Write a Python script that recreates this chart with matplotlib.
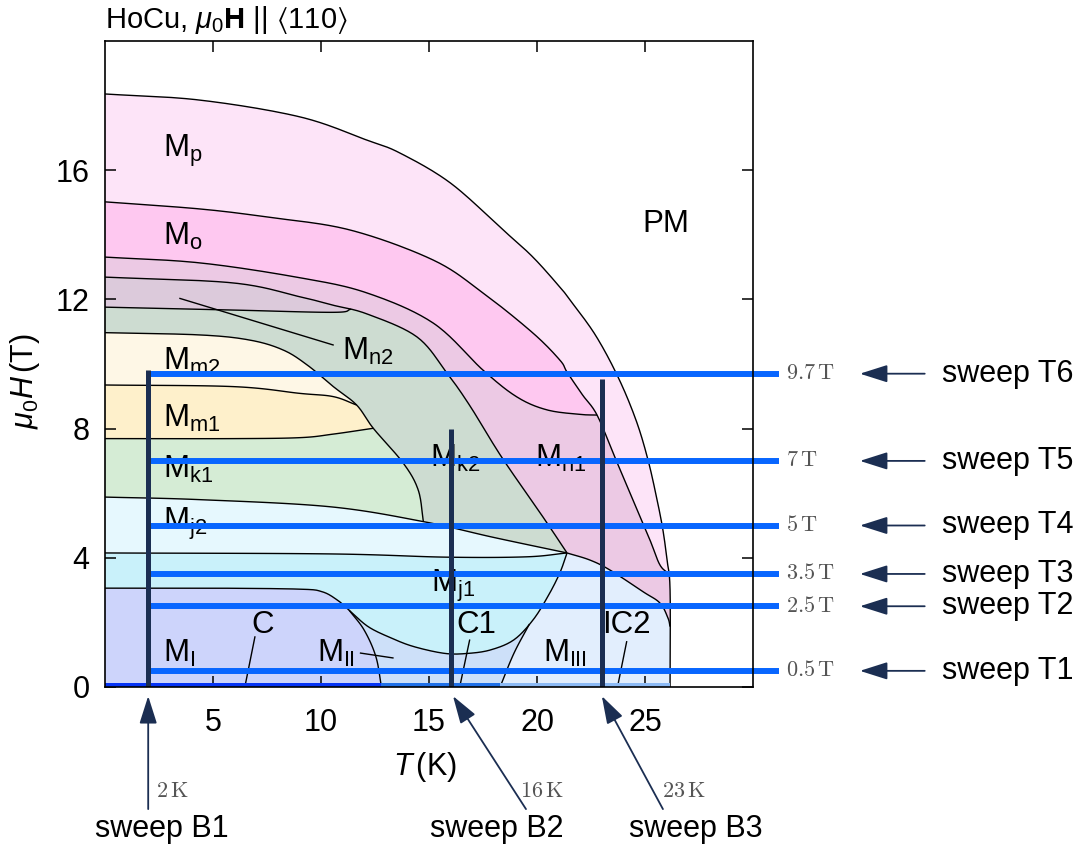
import numpy as np
import matplotlib
matplotlib.use("Agg")
import matplotlib.pyplot as plt

plt.rcParams['font.family'] = ['Liberation Sans', 'DejaVu Sans']
plt.rcParams['mathtext.fontset'] = 'custom'
plt.rcParams['mathtext.rm'] = 'Liberation Sans'
plt.rcParams['mathtext.it'] = 'Liberation Sans:italic'
plt.rcParams['mathtext.bf'] = 'Liberation Sans:bold'
plt.rcParams['mathtext.sf'] = 'Liberation Sans'
plt.rcParams['mathtext.fallback'] = 'stixsans'

# ---------------- phase boundaries (T in K, mu0H in T) ----------------
out_T = [0, 4.4, 9.03, 12.13, 13.66, 16.0, 18.43, 19.81, 21.06, 21.53, 22.7, 23.75, 24.58, 25.14, 25.56, 25.83, 26.02, 26.16, 26.16]
out_H = [18.36, 18.17, 17.65, 16.93, 16.53, 15.6, 14.15, 13.31, 12.38, 11.98, 10.9, 9.6, 8.27, 7.03, 5.79, 4.86, 3.93, 3.0, 0.0]

po_T = [0, 4.4, 7.5, 11.34, 15.19, 17.5, 19.81, 21.06, 21.39, 22.1, 22.78, 23.6, 24.44, 25.23, 25.69, 26.12]
po_H = [15.02, 14.8, 14.55, 14.15, 13.22, 12.2, 10.96, 10.12, 9.75, 9.05, 8.42, 7.12, 5.79, 4.55, 3.78, 3.5]

ol_T = [0, 4.4, 9.03, 12.13, 15.19, 17.5, 19.07, 20.46, 22.0, 22.78]
ol_H = [13.31, 13.13, 12.67, 12.2, 11.27, 9.81, 8.98, 8.58, 8.44, 8.42]

n1l_T = [0, 5.93, 9.03, 10.56, 12.13, 14.44, 15.83, 16.9, 18.36, 20.28, 21.39]
n1l_H = [12.69, 12.51, 12.08, 11.82, 11.55, 10.84, 9.72, 8.7, 7.12, 5.26, 4.15]

n2l_T = [0, 5.93, 10.56]
n2l_H = [11.76, 11.67, 11.6]
n2_tip_T = 11.4

k2b_T = [0, 4.4, 6.71, 8.26, 9.4, 10.57, 11.65, 12.42, 13.81, 14.5, 14.74]
k2b_H = [10.97, 10.9, 10.74, 10.43, 9.95, 9.3, 8.73, 8.01, 6.93, 6.1, 5.12]

m1t_T = [0, 5.94, 9.03, 10.57, 11.65]
m1t_H = [9.35, 9.3, 9.09, 8.99, 8.73]

m1l_T = [0, 5.94, 9.03, 10.57, 12.42]
m1l_H = [7.69, 7.69, 7.72, 7.83, 8.01]

j2t_T = [0, 4.4, 10.42, 14.74, 18.0, 21.39]
j2t_H = [5.88, 5.8, 5.58, 5.12, 4.63, 4.15]

j2l_T = [0, 10.42, 15.8, 19.5, 21.39]
j2l_H = [4.15, 4.12, 4.02, 4.03, 4.15]

j1l_T = [0, 5.0, 8.99, 10.05, 10.76, 11.3, 12.18, 13.24, 14.3, 15.73, 16.8, 17.86, 18.93, 19.81, 20.5, 21.05, 21.39]
j1l_H = [3.06, 3.06, 3.03, 2.95, 2.69, 2.38, 1.87, 1.52, 1.25, 1.04, 1.04, 1.15, 1.46, 2.07, 2.8, 3.52, 4.15]

m12_T = [11.3, 12.0, 12.54, 12.8]
m12_H = [2.38, 1.76, 0.94, 0.0]

m23_T = [18.29, 18.93, 19.65]
m23_H = [0.0, 1.04, 1.95]

m3t_T = [21.39, 22.45, 23.38, 24.91, 25.69, 26.06, 26.16]
m3t_H = [4.15, 3.93, 3.62, 2.95, 2.6, 2.14, 1.87]

# ground-state strip segments (C, C1, IC2)
strip_edges = [0, 12.8, 18.29, 26.16]
strip_colors = ['#0533f5', '#1f70e8', '#8cbaf5']

# sweeps
sweepT_fields = [0.5, 2.5, 3.5, 5, 7, 9.7]
sweepT_values = [r'$0.5\,\mathrm{T}$', r'$2.5\,\mathrm{T}$', r'$3.5\,\mathrm{T}$',
                 r'$5\,\mathrm{T}$', r'$7\,\mathrm{T}$', r'$9.7\,\mathrm{T}$']
sweepT_names = ['sweep T1', 'sweep T2', 'sweep T3', 'sweep T4', 'sweep T5', 'sweep T6']
sweepB_temps = [2, 16, 23]
sweepB_tops = [9.8, 8.0, 9.55]
sweepB_values = [r'$2\,\mathrm{K}$', r'$16\,\mathrm{K}$', r'$23\,\mathrm{K}$']
sweepB_names = ['sweep B1', 'sweep B2', 'sweep B3']

# phase labels: (text, T, H) left/baseline
phase_labels = [
    (r'M$_\mathrm{p}$', 2.69, 16.41), (r'M$_\mathrm{o}$', 2.69, 13.68),
    (r'M$_\mathrm{m2}$', 2.69, 9.81), (r'M$_\mathrm{m1}$', 2.69, 8.05),
    (r'M$_\mathrm{k1}$', 2.69, 6.47), (r'M$_\mathrm{j2}$', 2.69, 4.86),
    (r'M$_\mathrm{n2}$', 10.97, 10.12), (r'M$_\mathrm{k2}$', 15.05, 6.81),
    (r'M$_\mathrm{n1}$', 19.9, 6.81), (r'M$_\mathrm{j1}$', 15.1, 2.94),
    (r'M$_\mathrm{I}$', 2.69, 0.77), (r'M$_\mathrm{II}$', 9.8, 0.77),
    (r'M$_\mathrm{III}$', 20.3, 0.77), ('C', 6.77, 1.67), ('C1', 16.25, 1.67),
    ('IC2', 23.0, 1.67), ('PM', 24.9, 14.09),
]
pointer_T0 = [3.47, 11.83, 6.94, 16.88, 24.15]
pointer_H0 = [12.03, 1.05, 1.55, 1.45, 1.40]
pointer_T1 = [10.56, 13.33, 6.51, 16.44, 23.76]
pointer_H1 = [10.59, 0.90, 0.12, 0.06, 0.11]

colors = dict(p='#fde4f8', o='#fec8f0', n1='#ecc9e4', n2='#dccadb', k2='#cddcd1',
              m2='#fef7e6', m1='#fef0cb', k1='#d5ecd5', j2='#e6f8fe', j1='#c9f1fa',
              I='#cdd4fb', II='#cde0f9', III='#e2eefd')
blue = '#0866ff'
navy = '#1b2e52'


def smooth(T, H, n=20):
    P = np.column_stack([T, H]).astype(float)
    if len(P) < 3:
        return P[:, 0], P[:, 1]
    ext = np.vstack([2 * P[0] - P[1], P, 2 * P[-1] - P[-2]])
    t = np.linspace(0, 1, n, endpoint=False)[:, None]
    segs = []
    for i in range(1, len(ext) - 2):
        p0, p1, p2, p3 = ext[i - 1], ext[i], ext[i + 1], ext[i + 2]
        seg = 0.5 * (2 * p1 + (-p0 + p2) * t + (2 * p0 - 5 * p1 + 4 * p2 - p3) * t ** 2
                     + (-p0 + 3 * p1 - 3 * p2 + p3) * t ** 3)
        segs.append(seg)
    segs.append(P[-1:])
    D = np.vstack(segs)
    return D[:, 0], D[:, 1]


def part(c, a, b):
    x, y = c
    m = (x >= a - 1e-9) & (x <= b + 1e-9)
    return x[m], y[m]


OUT = smooth(out_T, out_H)
PO = smooth(po_T, po_H)
OL = smooth(ol_T, ol_H)
N1L = smooth(n1l_T, n1l_H)
tip_H = np.interp(n2_tip_T, N1L[0], N1L[1])
N2L = smooth(n2l_T + [n2_tip_T], n2l_H + [tip_H])
K2B = smooth(k2b_T, k2b_H)
M1T = smooth(m1t_T, m1t_H)
M1L = smooth(m1l_T, m1l_H)
J2T = smooth(j2t_T, j2t_H)
J2L = smooth(j2l_T, j2l_H)
J1L = smooth(j1l_T, j1l_H)
M12 = smooth(m12_T, m12_H)
M23 = smooth(m23_T, m23_H)
M3T = smooth(m3t_T, m3t_H)

fig = plt.figure(figsize=(10.88, 8.48), dpi=100)
ax = fig.add_axes([105 / 1088, 1 - 687 / 848, 648 / 1088, 646 / 848])
ax.set_xlim(0, 30)
ax.set_ylim(0, 20)


def fill_under(c, color, z=1):
    x, y = c
    ax.fill(np.r_[x, x[-1], x[0]], np.r_[y, 0, 0], color=color, lw=0, zorder=z)


def fill_poly(xs, ys, color, z=1):
    ax.fill(np.concatenate(xs), np.concatenate(ys), color=color, lw=0, zorder=z)


fill_under(OUT, colors['p'])
fill_under(PO, colors['o'])
hook = ol_T[-1]
po_after = part(PO, hook, 100)
fill_poly([OL[0], po_after[0], [out_T[-1], 0]], [OL[1], po_after[1], [0, 0]], colors['n1'])
fill_under(N1L, colors['k2'])
n1_seg = part(N1L, 0, n2_tip_T)
fill_poly([N2L[0], n1_seg[0][::-1]], [N2L[1], n1_seg[1][::-1]], colors['n2'])
fill_under(K2B, colors['m2'])
k_a = part(K2B, m1t_T[-1], m1l_T[-1])
fill_poly([M1T[0], k_a[0], M1L[0][::-1]], [M1T[1], k_a[1], M1L[1][::-1]], colors['m1'])
k_b = part(K2B, m1l_T[-1], k2b_T[-1])
j2_a = part(J2T, 0, k2b_T[-1])
fill_poly([M1L[0], k_b[0], j2_a[0][::-1]], [M1L[1], k_b[1], j2_a[1][::-1]], colors['k1'])
fill_under(J2T, colors['j2'])
fill_under(J2L, colors['j1'])
cross_T = m12_T[0]
meet_T = m23_T[-1]
j1_a = part(J1L, 0, cross_T)
fill_poly([j1_a[0], M12[0], [0]], [j1_a[1], M12[1], [0]], colors['I'])
j1_b = part(J1L, cross_T, meet_T)
fill_poly([j1_b[0], M23[0][::-1], M12[0][::-1]], [j1_b[1], M23[1][::-1], M12[1][::-1]], colors['II'])
j1_c = part(J1L, meet_T, 100)
fill_poly([M23[0], j1_c[0], M3T[0], [out_T[-1]]], [M23[1], j1_c[1], M3T[1], [0]], colors['III'])

for c in [OUT, PO, OL, N1L, N2L, K2B, M1T, M1L, J2T, J2L, J1L, M12, M23, M3T]:
    ax.plot(c[0], c[1], color='black', lw=1.0, zorder=3, solid_capstyle='butt')

for i in range(3):
    ax.fill_between([strip_edges[i], strip_edges[i + 1]], 0, 0.13, color=strip_colors[i], lw=0, zorder=4)

for x0, y0, x1, y1 in zip(pointer_T0, pointer_H0, pointer_T1, pointer_H1):
    ax.plot([x0, x1], [y0, y1], color='black', lw=1.0, zorder=3)

for txt, x, y in phase_labels:
    ax.text(x, y, txt, fontsize=22.5, ha='left', va='baseline', zorder=3)

# sweeps T (horizontal)
for Hf, val, name in zip(sweepT_fields, sweepT_values, sweepT_names):
    ax.plot([sweepB_temps[0], 31.2], [Hf, Hf], color=blue, lw=4.3, solid_capstyle='butt',
            zorder=6, clip_on=False)
    ax.text(31.55, Hf, val, fontsize=16, color='#555555', math_fontfamily='cm',
            ha='left', va='center')
    ax.annotate('', xy=(34.95, Hf), xytext=(37.95, Hf), annotation_clip=False,
                arrowprops=dict(arrowstyle='-|>,head_length=0.85,head_width=0.27',
                                mutation_scale=20, color=navy, lw=1.3, shrinkA=0, shrinkB=0))
    ax.text(38.75, Hf, name, fontsize=22, ha='left', va='center')

# sweeps B (vertical)
b_tail_T = [2.0, 19.49, 25.83]
b_tip_T = [2.0, 16.11, 23.0]
for Tb, top, val, name, tT, pT in zip(sweepB_temps, sweepB_tops, sweepB_values, sweepB_names, b_tail_T, b_tip_T):
    ax.plot([Tb, Tb], [0, top], color=navy, lw=3.6, solid_capstyle='butt', zorder=7)
    ax.annotate('', xy=(pT, -0.28), xytext=(tT, -3.78), annotation_clip=False,
                arrowprops=dict(arrowstyle='-|>,head_length=0.85,head_width=0.27',
                                mutation_scale=20, color=navy, lw=1.3, shrinkA=0, shrinkB=0))
label_B_T = [2.36, 19.2, 25.8]
for x, val in zip(label_B_T, sweepB_values):
    ax.text(x, -3.22, val, fontsize=16, color='#555555', math_fontfamily='cm',
            ha='left', va='center')
name_B_T = [2.64, 18.15, 27.36]
for x, name in zip(name_B_T, sweepB_names):
    ax.text(x, -4.4, name, fontsize=22, ha='center', va='center')

ax.set_xticks([5, 10, 15, 20, 25])
ax.set_yticks([0, 4, 8, 12, 16])
ax.tick_params(direction='in', length=8, width=1.1, top=True, right=True, labelsize=22)
ax.tick_params(axis='x', pad=15)
ax.tick_params(axis='y', pad=11)
for s in ax.spines.values():
    s.set_linewidth(1.2)
    s.set_zorder(8)

ax.set_xlabel(r'$T\,$(K)', fontsize=22)
ax.set_ylabel(r'$\mu_0H\,$(T)', fontsize=22)
ax.xaxis.set_label_coords(0.494, -0.097)
ax.yaxis.set_label_coords(-0.097, 0.474)
ax.text(0.0, 1.008, r'HoCu, $\mu_0\mathbf{H}$ || $\langle$110$\rangle$', transform=ax.transAxes,
        fontsize=21, ha='left', va='bottom')

fig.savefig('out.png', dpi=100)
